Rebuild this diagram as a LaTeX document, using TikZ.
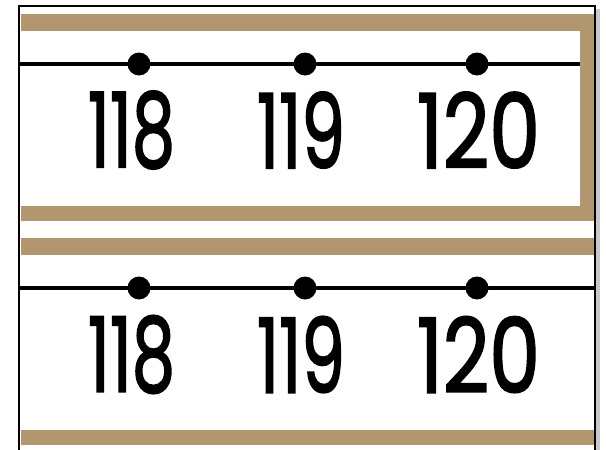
\documentclass[tikz,border=0pt]{standalone}
\usepackage{fontspec}
\newfontfamily\cardfont{Poppins}[FakeBold=2]
\definecolor{burlap}{HTML}{B1966F}
\definecolor{shadowgray}{HTML}{C8C8C8}
\usetikzlibrary{positioning}

\begin{document}
\begin{tikzpicture}[x=1pt, y=-1pt,
  band/.style={fill=burlap},
  numline/.style={draw=black, line width=4pt},
  tickdot/.style={circle, fill=black, inner sep=0pt, minimum size=23pt},
  numlbl/.style={inner sep=0pt, font=\cardfont}
]
\useasboundingbox (0,0) rectangle (606,450);

%% Page frame with shadow
\fill[shadowgray] (596,9) rectangle (600,450);
\draw[line width=2pt] (19,460) -- (19,6) -- (595,6) -- (595,460);

%% Burlap borders
\fill[band] (21,14)  rectangle (594,31);
\fill[band] (580,31) rectangle (594,206);
\fill[band] (21,206) rectangle (594,221);
\fill[band] (21,238) rectangle (594,255);
\fill[band] (21,430) rectangle (594,445);

%% Number lines
\coordinate (topleft)  at (19,64);
\coordinate (topright) at (580,64);
\coordinate (botleft)  at (19,288);
\coordinate (botright) at (595,288);
\draw[numline] (topleft) -- (topright);
\draw[numline] (botleft) -- (botright);

%% Tick dots
\foreach \n/\x in {a/139, b/305, c/477} {
  \node[tickdot] (topdot\n) at (\x,64)  {};
  \node[tickdot] (botdot\n) at (\x,288) {};
}

%% Numbers
\foreach \n/\x/\w/\t in {a/131.5/87/118, b/301/88/119, c/478.5/123/120} {
  \node[numlbl] (toplbl\n) at (\x,130)   {\resizebox{\w pt}{76pt}{\t}};
  \node[numlbl] (botlbl\n) at (\x,354.5) {\resizebox{\w pt}{76pt}{\t}};
}

\end{tikzpicture}
\end{document}
